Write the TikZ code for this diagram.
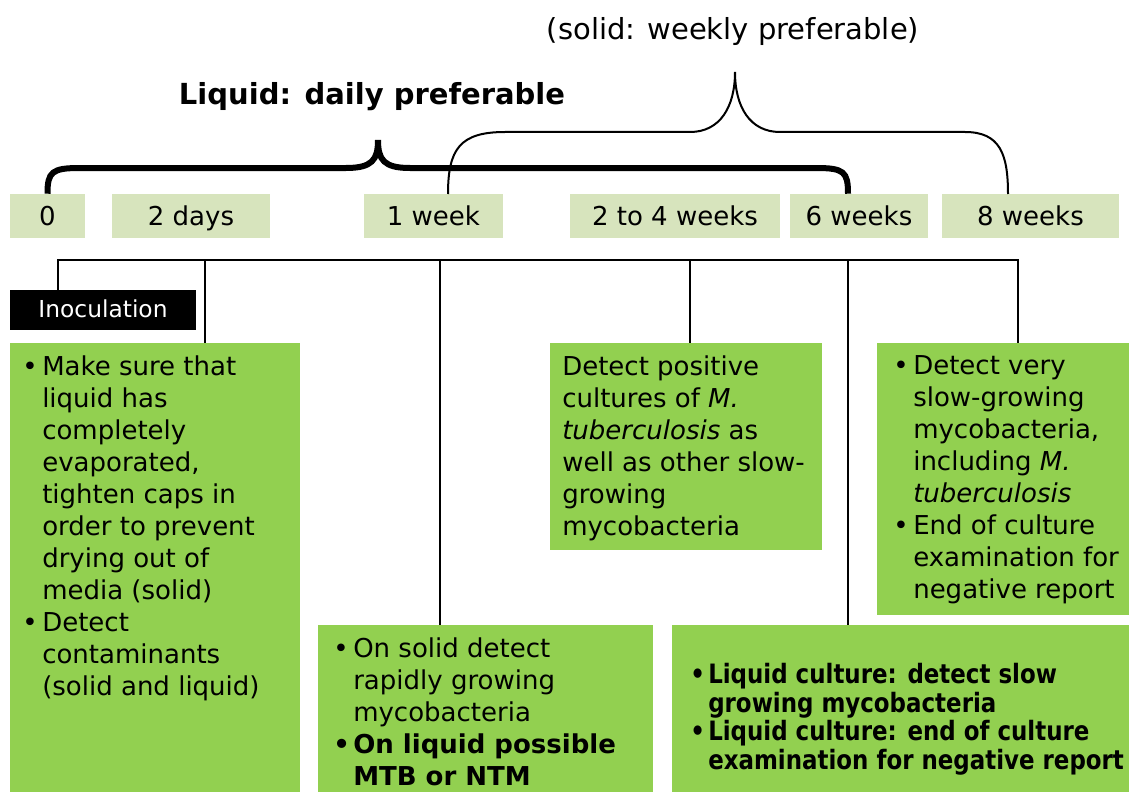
\documentclass[tikz,border=0pt]{standalone}
\usepackage{fontspec}
\setmainfont{DejaVu Sans}
\newfontfamily\narrowfont[FakeStretch=0.86]{DejaVu Sans}
\usetikzlibrary{fit}
\definecolor{leafgreen}{HTML}{92D050}
\definecolor{palegreen}{HTML}{D7E4BD}
\newcommand{\bul}{\makebox[15pt][l]{\textbullet}}
\newcommand{\ind}{\hspace*{15pt}}

\begin{document}
\begin{tikzpicture}[x=0.75pt,y=-0.75pt,
	tbox/.style={fill=palegreen,inner sep=0pt,minimum height=33pt,font=\fontsize{19.5}{24}\selectfont,text height=16.5pt,text depth=2.5pt},
	gbox/.style={fill=leafgreen,inner sep=0pt},
	btext/.style={anchor=north west,inner sep=0pt,align=left,font=\fontsize{19.5}{24}\selectfont},
	link/.style={line width=1.7pt},
	thickbrace/.style={line width=4.5pt},
	thinbrace/.style={line width=1.5pt}]
		\useasboundingbox (0,0) rectangle (1129,792);
		% titles
		\node[font=\fontsize{21.75}{26}\selectfont] (ttlsolid) at (733,32) {(solid: weekly preferable)};
		\node[font=\fontsize{21.75}{26}\selectfont\bfseries] (ttlliquid) at (372,97) {Liquid: daily preferable};
		% time labels
		\node[tbox,minimum width=56.25pt] (t0) at (47.5,216) {0};
		\node[tbox,minimum width=118.5pt] (t2d) at (191,216) {2 days};
		\node[tbox,minimum width=104.25pt] (t1w) at (433.5,216) {1 week};
		\node[tbox,minimum width=157.5pt] (t24w) at (675,216) {2 to 4 weeks};
		\node[tbox,minimum width=103.5pt] (t6w) at (859,216) {6 weeks};
		\node[tbox,minimum width=132.75pt] (t8w) at (1030.5,216) {8 weeks};
		% boxes
		\node[fill=black,inner sep=0pt,minimum width=139.5pt,minimum height=30pt,text=white,font=\fontsize{17.5}{21}\selectfont,text height=13.5pt,text depth=2pt] (inoc) at (103,310) {Inoculation};
		\node[gbox,fit={(10,343) (300,792)}] (boxA) {};
		\node[gbox,fit={(550,343) (822,550)}] (boxB) {};
		\node[gbox,fit={(877,343) (1129,615)}] (boxC) {};
		\node[gbox,fit={(318,625) (653,792)}] (boxD) {};
		\node[gbox,fit={(672,625) (1129,792)}] (boxE) {};
		\node[btext] (txtA) at (22,355) {\bul Make sure that\\ \ind liquid has\\ \ind completely\\ \ind evaporated,\\ \ind tighten caps in\\ \ind order to prevent\\ \ind drying out of\\ \ind media (solid)\\ \bul Detect\\ \ind contaminants\\ \ind (solid and liquid)};
		\node[btext] (txtB) at (562,355) {Detect positive\\ cultures of \textit{M.}\\ \textit{tuberculosis} as\\ well as other slow-\\ growing\\ mycobacteria};
		\node[btext] (txtC) at (893,355) {\bul Detect very\\ \ind slow-growing\\ \ind mycobacteria,\\ \ind including \textit{M.}\\ \ind \textit{tuberculosis}\\ \bul End of culture\\ \ind examination for\\ \ind negative report};
		\node[btext] (txtD) at (333,637) {\bul On solid detect\\ \ind rapidly growing\\ \ind mycobacteria\\ \textbf{\bul On liquid possible}\\ \ind \textbf{MTB or NTM}};
		\node[btext,font=\narrowfont\bfseries\fontsize{20}{21.4}\selectfont] (txtE) at (690,663) {\makebox[13.5pt][l]{\textbullet}Liquid culture: detect slow\\ \hspace*{13.5pt}growing mycobacteria\\ \makebox[13.5pt][l]{\textbullet}Liquid culture: end of culture\\ \hspace*{13.5pt}examination for negative report};
		% connectors
		\coordinate (d1) at (58,260);
		\coordinate (d2) at (205,260);
		\coordinate (d3) at (440,260);
		\coordinate (d4) at (690,260);
		\coordinate (d5) at (848,260);
		\coordinate (d6) at (1018,260);
		\draw[link] (d1 |- inoc.north) -- (d1) -- (d6) -- (d6 |- boxC.north);
		\draw[link] (d2) -- (d2 |- boxA.north);
		\draw[link] (d3) -- (d3 |- boxD.north);
		\draw[link] (d4) -- (d4 |- boxB.north);
		\draw[link] (d5) -- (d5 |- boxE.north);
		% braces
		\coordinate (tipL) at (378,140);
		\coordinate (tipS) at (735,72);
		\draw[thickbrace] (t0.north) .. controls +(0,-22) and +(-28,0) .. (80,168) -- (346,168) .. controls +(26,0) and +(0,20) .. (tipL) .. controls +(0,20) and +(-26,0) .. (410,168) -- (816,168) .. controls +(28,0) and +(0,-22) .. (t6w.north -| d5);
		\draw[thinbrace] (448,194) .. controls +(0,-45) and +(-45,0) .. (505,132) -- (690,132) .. controls +(30,0) and +(0,35) .. (tipS) .. controls +(0,35) and +(-30,0) .. (780,132) -- (965,132) .. controls +(35,0) and +(0,-40) .. (1008,194);
\end{tikzpicture}
\end{document}
